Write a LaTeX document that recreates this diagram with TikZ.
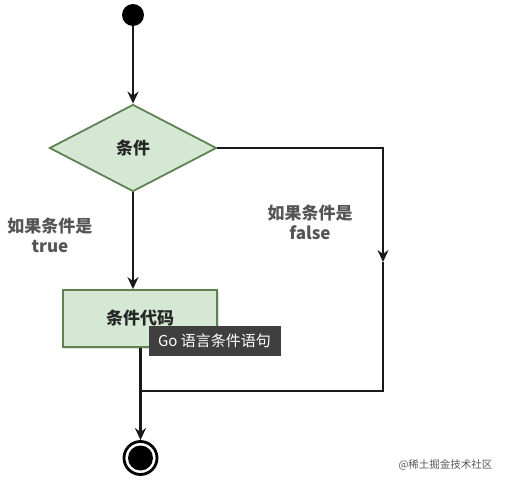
\documentclass[tikz,border=0pt]{standalone}
\usepackage{fontspec}
\newfontfamily\cjk{Noto Sans CJK SC}
\usetikzlibrary{shapes.geometric,arrows.meta,shadows}
\definecolor{gfill}{HTML}{D5E8D4}
\definecolor{gline}{HTML}{5F8350}
\definecolor{lbl}{HTML}{555555}
\definecolor{tip}{HTML}{3F3F3F}
\begin{document}
\begin{tikzpicture}[x=1pt,y=-1pt,
  conn/.style={line width=2.3pt,draw=black!90},
  arr/.style={conn,-{Stealth[length=12pt,width=11pt,inset=4pt]}},
  greenbox/.style={fill=gfill,draw=gline,line width=1.8pt,font=\cjk\bfseries\fontsize{17}{20}\selectfont,text=black!85},
  lab/.style={font=\cjk\bfseries\fontsize{17}{20}\selectfont,text=lbl,align=center}
]
\useasboundingbox (0,0) rectangle (509,484);
\fill[white] (0,0) rectangle (509,484);
% start
\node[circle,fill=black,minimum size=22pt,inner sep=0pt] (start) at (133,15) {};
% condition
\node[greenbox,diamond,minimum width=167pt,minimum height=87pt,inner sep=0pt] (cond) at (133,148) {条件};
% code box
\node[greenbox,rectangle,minimum width=154pt,minimum height=57pt,inner sep=0pt,
  drop shadow={opacity=0.25,shadow xshift=2pt,shadow yshift=-2pt}] (code) at (140,318.5) {条件代码};
% end
\node[circle,draw=black,line width=2.8pt,fill=white,minimum size=33pt,inner sep=0pt] (endc) at (140.5,458) {};
\node[circle,fill=black,minimum size=25pt,inner sep=0pt] (endin) at (endc.center) {};
% labels
\node[lab] (ltrue) at (50,235) {如果条件是\\true};
\node[lab] (lfalse) at (310,222) {如果条件是\\false};
% coordinates
\coordinate (mid) at (383,262);
\coordinate (join) at (140,391);
% connectors
\draw[arr] (start) -- (cond.north);
\draw[arr] (cond.south) -- (cond.south |- code.north);
\draw[arr] (cond.east) -| (mid);
\draw[conn] (mid) |- (join);
\draw[arr] (code.south -| endc.north) -- (endc.north);
% tooltip
\node[fill=tip,text=white,minimum width=132pt,minimum height=30pt,inner sep=0pt,
  font=\cjk\fontsize{15}{18}\selectfont] (tt) at (214.5,340.5) {Go 语言条件语句};
% watermark
\node[font=\cjk\fontsize{10.5}{12}\selectfont,text=black!65,anchor=east] (wm) at (496,465) {@稀土掘金技术社区};
\end{tikzpicture}
\end{document}
